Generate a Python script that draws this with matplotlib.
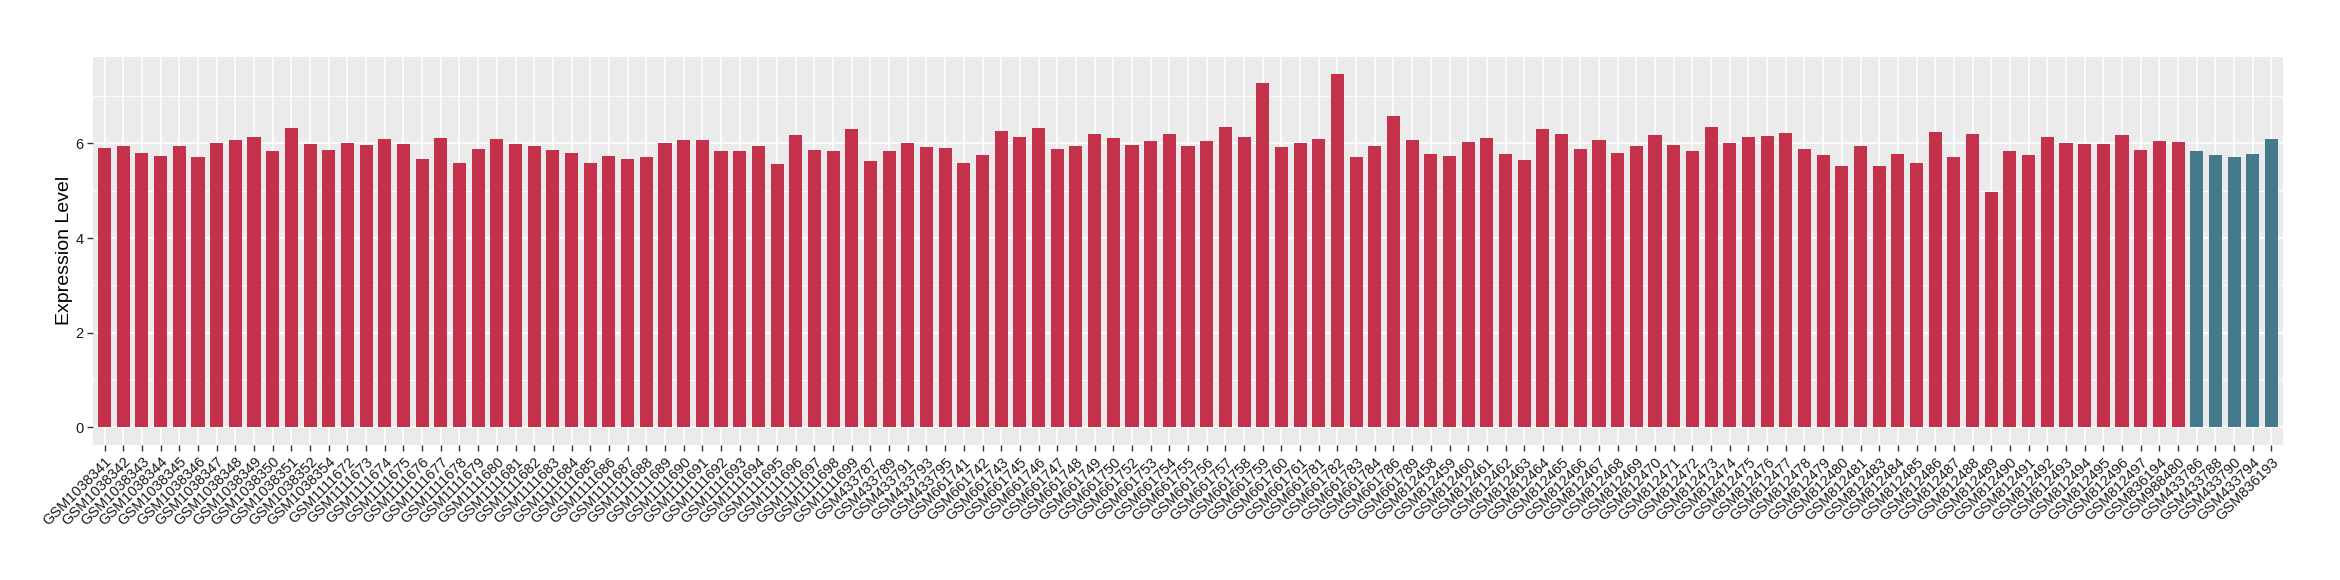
import numpy as np
import matplotlib
matplotlib.use("Agg")
import matplotlib.pyplot as plt
from matplotlib.ticker import MultipleLocator

plt.rcParams['font.family'] = ['Liberation Sans', 'DejaVu Sans']

# --- data ---
samples = [
    "GSM1038341", "GSM1038342", "GSM1038343", "GSM1038344", "GSM1038345",
    "GSM1038346", "GSM1038347", "GSM1038348", "GSM1038349", "GSM1038350",
    "GSM1038351", "GSM1038352", "GSM1038354",
    "GSM1111672", "GSM1111673", "GSM1111674", "GSM1111675", "GSM1111676",
    "GSM1111677", "GSM1111678", "GSM1111679", "GSM1111680", "GSM1111681",
    "GSM1111682", "GSM1111683", "GSM1111684", "GSM1111685", "GSM1111686",
    "GSM1111687", "GSM1111688", "GSM1111689", "GSM1111690", "GSM1111691",
    "GSM1111692", "GSM1111693", "GSM1111694", "GSM1111695", "GSM1111696",
    "GSM1111697", "GSM1111698", "GSM1111699",
    "GSM433787", "GSM433789", "GSM433791", "GSM433793", "GSM433795",
    "GSM661741", "GSM661742", "GSM661743", "GSM661745", "GSM661746",
    "GSM661747", "GSM661748", "GSM661749", "GSM661750", "GSM661752",
    "GSM661753", "GSM661754", "GSM661755", "GSM661756", "GSM661757",
    "GSM661758", "GSM661759", "GSM661760", "GSM661761", "GSM661781",
    "GSM661782", "GSM661783", "GSM661784", "GSM661786", "GSM661789",
    "GSM812458", "GSM812459", "GSM812460", "GSM812461", "GSM812462",
    "GSM812463", "GSM812464", "GSM812465", "GSM812466", "GSM812467",
    "GSM812468", "GSM812469", "GSM812470", "GSM812471", "GSM812472",
    "GSM812473", "GSM812474", "GSM812475", "GSM812476", "GSM812477",
    "GSM812478", "GSM812479", "GSM812480", "GSM812481", "GSM812483",
    "GSM812484", "GSM812485", "GSM812486", "GSM812487", "GSM812488",
    "GSM812489", "GSM812490", "GSM812491", "GSM812492", "GSM812493",
    "GSM812494", "GSM812495", "GSM812496", "GSM812497", "GSM836194",
    "GSM988480",
    "GSM433786", "GSM433788", "GSM433790", "GSM433794", "GSM836193",
]

expression = [
    5.91, 5.95, 5.80, 5.74, 5.95, 5.72, 6.01, 6.08, 6.14, 5.85,
    6.33, 5.99, 5.87, 6.01, 5.97, 6.10, 5.99, 5.68, 6.12, 5.59,
    5.89, 6.10, 5.99, 5.95, 5.87, 5.80, 5.59, 5.74, 5.68, 5.72,
    6.01, 6.08, 6.08, 5.83, 5.85, 5.95, 5.57, 6.18, 5.87, 5.85,
    6.31, 5.62, 5.83, 6.01, 5.93, 5.91, 5.59, 5.76, 6.27, 6.14,
    6.33, 5.89, 5.95, 6.20, 6.12, 5.97, 6.06, 6.20, 5.95, 6.06,
    6.35, 6.14, 7.27, 5.93, 6.01, 6.10, 7.46, 5.72, 5.95, 6.58,
    6.08, 5.78, 5.74, 6.03, 6.12, 5.78, 5.64, 6.31, 6.20, 5.89,
    6.08, 5.80, 5.95, 6.18, 5.97, 5.83, 6.35, 6.01, 6.14, 6.16,
    6.22, 5.89, 5.76, 5.53, 5.95, 5.53, 5.78, 5.59, 6.24, 5.72,
    6.20, 4.97, 5.85, 5.76, 6.14, 6.01, 5.99, 5.99, 6.18, 5.87,
    6.06, 6.03,
    5.83, 5.76, 5.72, 5.78, 6.10,
]

group = ["tumor"] * 112 + ["normal"] * 5
group_colors = {"tumor": "#C3324A", "normal": "#447A8B"}

# --- figure ---
fig = plt.figure(figsize=(23.4, 5.8), dpi=100)
ax = fig.add_axes([0.0399, 0.2328, 0.9356, 0.6694])

x = np.arange(len(samples))
colors = [group_colors[g] for g in group]
ax.bar(x, expression, width=0.7, color=colors, zorder=3)

# ggplot-like panel
ax.set_facecolor("#EBEBEB")
for s in ax.spines.values():
    s.set_visible(False)

ax.set_xlim(-0.6, len(samples) - 0.4)
ymax = max(expression)
ax.set_ylim(-0.05 * ymax, ymax * 1.05)

ax.yaxis.set_major_locator(MultipleLocator(2))
ax.yaxis.set_minor_locator(MultipleLocator(1))
ax.grid(True, which="major", color="white", lw=1.2, zorder=0)
ax.grid(True, which="minor", axis="y", color="white", lw=0.6, zorder=0)
ax.tick_params(axis="y", which="minor", length=0)

ax.set_xticks(x)
ax.set_xticklabels(samples, rotation=45, ha="right", va="top",
                   rotation_mode="anchor", fontsize=10.5)
ax.tick_params(axis="both", which="major", length=4, width=1,
               color="#333333", labelcolor="#1A1A1A", pad=3)
ax.tick_params(axis="y", labelsize=10.5)

ax.set_ylabel("Expression Level", fontsize=14, labelpad=2)

plt.savefig("out.png", dpi=100)
plt.close()
